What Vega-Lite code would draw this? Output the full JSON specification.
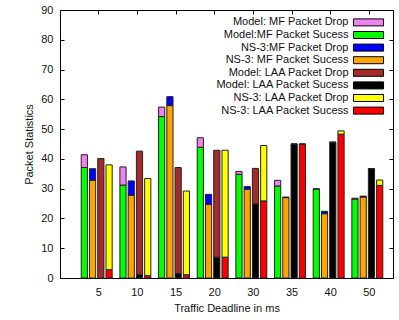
{
  "$schema": "https://vega.github.io/schema/vega-lite/v6.json",
  "autosize": "none",
  "padding": {"left": 60, "top": 10, "right": 6, "bottom": 42},
  "width": 333,
  "height": 268,
  "config": {
    "view": {"stroke": "black", "strokeWidth": 1},
    "font": "Liberation Sans",
    "axis": {"labelFont": "Liberation Sans", "titleFont": "Liberation Sans", "labelFontSize": 11, "titleFontSize": 11, "titleFontWeight": "normal", "labelColor": "#111", "titleColor": "#111", "tickColor": "black", "grid": false, "domain": false}
  },
  "data": {"values": [
    {"d": "5", "s": "MMF", "t": "Model:MF Packet Sucess", "v": 37.1, "o": 0},
    {"d": "5", "s": "MMF", "t": "Model: MF Packet Drop", "v": 4.3, "o": 1},
    {"d": "5", "s": "NMF", "t": "NS-3: MF Packet Sucess", "v": 32.8, "o": 0},
    {"d": "5", "s": "NMF", "t": "NS-3:MF Packet Drop", "v": 3.9, "o": 1},
    {"d": "5", "s": "MLAA", "t": "Model: LAA Packet Sucess", "v": 0, "o": 0},
    {"d": "5", "s": "MLAA", "t": "Model: LAA Packet Drop", "v": 40.1, "o": 1},
    {"d": "5", "s": "NLAA", "t": "NS-3: LAA Packet Sucess", "v": 2.8, "o": 0},
    {"d": "5", "s": "NLAA", "t": "NS-3: LAA Packet Drop", "v": 35.2, "o": 1},

    {"d": "10", "s": "MMF", "t": "Model:MF Packet Sucess", "v": 31.2, "o": 0},
    {"d": "10", "s": "MMF", "t": "Model: MF Packet Drop", "v": 6.1, "o": 1},
    {"d": "10", "s": "NMF", "t": "NS-3: MF Packet Sucess", "v": 27.8, "o": 0},
    {"d": "10", "s": "NMF", "t": "NS-3:MF Packet Drop", "v": 4.8, "o": 1},
    {"d": "10", "s": "MLAA", "t": "Model: LAA Packet Sucess", "v": 1.1, "o": 0},
    {"d": "10", "s": "MLAA", "t": "Model: LAA Packet Drop", "v": 41.5, "o": 1},
    {"d": "10", "s": "NLAA", "t": "NS-3: LAA Packet Sucess", "v": 0.8, "o": 0},
    {"d": "10", "s": "NLAA", "t": "NS-3: LAA Packet Drop", "v": 32.6, "o": 1},

    {"d": "15", "s": "MMF", "t": "Model:MF Packet Sucess", "v": 54.2, "o": 0},
    {"d": "15", "s": "MMF", "t": "Model: MF Packet Drop", "v": 3.2, "o": 1},
    {"d": "15", "s": "NMF", "t": "NS-3: MF Packet Sucess", "v": 57.9, "o": 0},
    {"d": "15", "s": "NMF", "t": "NS-3:MF Packet Drop", "v": 3.0, "o": 1},
    {"d": "15", "s": "MLAA", "t": "Model: LAA Packet Sucess", "v": 1.5, "o": 0},
    {"d": "15", "s": "MLAA", "t": "Model: LAA Packet Drop", "v": 35.6, "o": 1},
    {"d": "15", "s": "NLAA", "t": "NS-3: LAA Packet Sucess", "v": 1.1, "o": 0},
    {"d": "15", "s": "NLAA", "t": "NS-3: LAA Packet Drop", "v": 28.1, "o": 1},

    {"d": "20", "s": "MMF", "t": "Model:MF Packet Sucess", "v": 43.9, "o": 0},
    {"d": "20", "s": "MMF", "t": "Model: MF Packet Drop", "v": 3.2, "o": 1},
    {"d": "20", "s": "NMF", "t": "NS-3: MF Packet Sucess", "v": 24.7, "o": 0},
    {"d": "20", "s": "NMF", "t": "NS-3:MF Packet Drop", "v": 3.4, "o": 1},
    {"d": "20", "s": "MLAA", "t": "Model: LAA Packet Sucess", "v": 7.0, "o": 0},
    {"d": "20", "s": "MLAA", "t": "Model: LAA Packet Drop", "v": 35.9, "o": 1},
    {"d": "20", "s": "NLAA", "t": "NS-3: LAA Packet Sucess", "v": 7.0, "o": 0},
    {"d": "20", "s": "NLAA", "t": "NS-3: LAA Packet Drop", "v": 35.9, "o": 1},

    {"d": "30", "s": "MMF", "t": "Model:MF Packet Sucess", "v": 34.8, "o": 0},
    {"d": "30", "s": "MMF", "t": "Model: MF Packet Drop", "v": 1.0, "o": 1},
    {"d": "30", "s": "NMF", "t": "NS-3: MF Packet Sucess", "v": 29.8, "o": 0},
    {"d": "30", "s": "NMF", "t": "NS-3:MF Packet Drop", "v": 0.9, "o": 1},
    {"d": "30", "s": "MLAA", "t": "Model: LAA Packet Sucess", "v": 24.9, "o": 0},
    {"d": "30", "s": "MLAA", "t": "Model: LAA Packet Drop", "v": 11.9, "o": 1},
    {"d": "30", "s": "NLAA", "t": "NS-3: LAA Packet Sucess", "v": 25.9, "o": 0},
    {"d": "30", "s": "NLAA", "t": "NS-3: LAA Packet Drop", "v": 18.6, "o": 1},

    {"d": "35", "s": "MMF", "t": "Model:MF Packet Sucess", "v": 30.9, "o": 0},
    {"d": "35", "s": "MMF", "t": "Model: MF Packet Drop", "v": 1.9, "o": 1},
    {"d": "35", "s": "NMF", "t": "NS-3: MF Packet Sucess", "v": 27.0, "o": 0},
    {"d": "35", "s": "NMF", "t": "NS-3:MF Packet Drop", "v": 0.2, "o": 1},
    {"d": "35", "s": "MLAA", "t": "Model: LAA Packet Sucess", "v": 45.0, "o": 0},
    {"d": "35", "s": "MLAA", "t": "Model: LAA Packet Drop", "v": 0, "o": 1},
    {"d": "35", "s": "NLAA", "t": "NS-3: LAA Packet Sucess", "v": 45.0, "o": 0},
    {"d": "35", "s": "NLAA", "t": "NS-3: LAA Packet Drop", "v": 0, "o": 1},

    {"d": "40", "s": "MMF", "t": "Model:MF Packet Sucess", "v": 29.9, "o": 0},
    {"d": "40", "s": "MMF", "t": "Model: MF Packet Drop", "v": 0, "o": 1},
    {"d": "40", "s": "NMF", "t": "NS-3: MF Packet Sucess", "v": 21.6, "o": 0},
    {"d": "40", "s": "NMF", "t": "NS-3:MF Packet Drop", "v": 0.8, "o": 1},
    {"d": "40", "s": "MLAA", "t": "Model: LAA Packet Sucess", "v": 45.6, "o": 0},
    {"d": "40", "s": "MLAA", "t": "Model: LAA Packet Drop", "v": 0, "o": 1},
    {"d": "40", "s": "NLAA", "t": "NS-3: LAA Packet Sucess", "v": 48.3, "o": 0},
    {"d": "40", "s": "NLAA", "t": "NS-3: LAA Packet Drop", "v": 1.1, "o": 1},

    {"d": "50", "s": "MMF", "t": "Model:MF Packet Sucess", "v": 26.5, "o": 0},
    {"d": "50", "s": "MMF", "t": "Model: MF Packet Drop", "v": 0.3, "o": 1},
    {"d": "50", "s": "NMF", "t": "NS-3: MF Packet Sucess", "v": 27.2, "o": 0},
    {"d": "50", "s": "NMF", "t": "NS-3:MF Packet Drop", "v": 0.3, "o": 1},
    {"d": "50", "s": "MLAA", "t": "Model: LAA Packet Sucess", "v": 36.7, "o": 0},
    {"d": "50", "s": "MLAA", "t": "Model: LAA Packet Drop", "v": 0, "o": 1},
    {"d": "50", "s": "NLAA", "t": "NS-3: LAA Packet Sucess", "v": 31.1, "o": 0},
    {"d": "50", "s": "NLAA", "t": "NS-3: LAA Packet Drop", "v": 1.8, "o": 1}
  ]},
  "layer": [
    {
      "mark": {"type": "bar", "stroke": "#222", "strokeWidth": 1},
      "encoding": {
        "x": {"field": "d", "type": "ordinal", "sort": ["5", "10", "15", "20", "30", "35", "40", "50"],
              "scale": {"paddingInner": 0.1464, "paddingOuter": 0.38, "align": 0.756},
              "axis": {"title": "Traffic Deadline in ms", "labelAngle": 0, "tickSize": -4, "labelPadding": 12, "titlePadding": 5}},
        "xOffset": {"field": "s", "type": "nominal", "sort": ["MMF", "NMF", "MLAA", "NLAA"],
                    "scale": {"range": [-2, 31], "paddingInner": 0.25, "paddingOuter": 0.125}},
        "y": {"field": "v", "type": "quantitative", "stack": "zero",
              "scale": {"domain": [0, 90], "nice": false},
              "axis": {"title": "Packet Statistics", "values": [0, 10, 20, 30, 40, 50, 60, 70, 80, 90], "tickSize": -4, "labelPadding": 11, "titlePadding": 6}},
        "order": {"field": "o", "type": "quantitative"},
        "color": {"field": "t", "type": "nominal",
                  "scale": {
                    "domain": ["Model: MF Packet Drop", "Model:MF Packet Sucess", "NS-3:MF Packet Drop", "NS-3: MF Packet Sucess", "Model: LAA Packet Drop", "Model: LAA Packet Sucess", "NS-3: LAA Packet Drop", "NS-3: LAA Packet Sucess"],
                    "range": ["#ee82ee", "#00ff00", "#0000ff", "#ffa500", "#a52a2a", "#000000", "#ffff00", "#ff0000"]
                  },
                  "legend": {
                    "title": null, "orient": "none", "legendX": 151.5, "legendY": 6.9,
                    "padding": 0, "rowPadding": 0.6,
                    "symbolType": "M-4.3,-1H4.3V1H-4.3Z", "symbolSize": 49,
                    "symbolStrokeColor": "black", "symbolStrokeWidth": 1, "symbolOpacity": 1,
                    "symbolOffset": 151.5, "labelOffset": -25.5, "labelAlign": "right",
                    "labelFont": "Liberation Sans", "labelFontSize": 11, "labelColor": "#111", "labelLimit": 200
                  }}
      }
    },
    {
      "mark": {"type": "tick", "opacity": 0},
      "encoding": {
        "x": {"field": "d", "type": "ordinal", "sort": ["5", "10", "15", "20", "30", "35", "40", "50"],
              "axis": {"orient": "top", "labels": false, "title": null, "tickSize": -4}},
        "y": {"field": "v", "type": "quantitative",
              "scale": {"domain": [0, 90], "nice": false},
              "axis": {"orient": "right", "labels": false, "title": null, "values": [0, 10, 20, 30, 40, 50, 60, 70, 80, 90], "tickSize": -4}}
      }
    }
  ],
  "resolve": {"axis": {"x": "independent", "y": "independent"}}
}
